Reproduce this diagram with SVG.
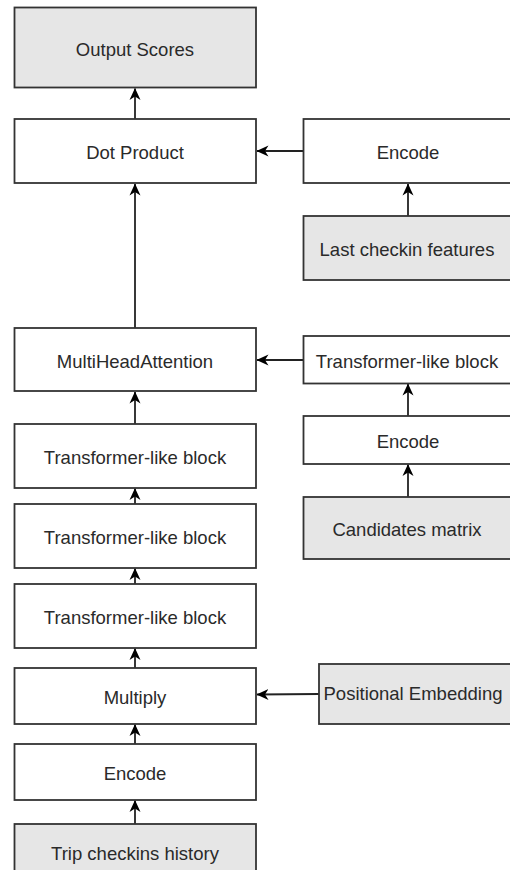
<svg xmlns="http://www.w3.org/2000/svg" width="510" height="870" viewBox="0 0 510 870">
  <style>
    .box { fill: #ffffff; stroke: #333333; stroke-width: 1.8; }
    .gray { fill: #e6e6e6; }
    .lbl { font-family: "Liberation Sans", Arial, sans-serif; font-size: 18.5px; fill: #2a2a2a; text-anchor: middle; }
    .edge { fill: none; stroke: #222222; stroke-width: 1.8; marker-end: url(#arr); }
  </style>
  <defs>
    <marker id="arr" viewBox="0 0 12 12" refX="11.5" refY="6" markerWidth="12" markerHeight="12" markerUnits="userSpaceOnUse" orient="auto">
      <path d="M0,0.5 L12,6 L0,11.5 L3.5,6 Z" fill="#000000"/>
    </marker>
  </defs>
  <rect width="510" height="870" fill="#ffffff"/>

  <g id="connectors">
    <line class="edge" x1="135" y1="119" x2="135" y2="88.5"/>
    <line class="edge" x1="135" y1="328" x2="135" y2="184"/>
    <line class="edge" x1="135" y1="424" x2="135" y2="392"/>
    <line class="edge" x1="135" y1="504" x2="135" y2="488.5"/>
    <line class="edge" x1="135" y1="584" x2="135" y2="568.5"/>
    <line class="edge" x1="135" y1="668" x2="135" y2="648.5"/>
    <line class="edge" x1="135" y1="744" x2="135" y2="724.5"/>
    <line class="edge" x1="135" y1="824" x2="135" y2="800.5"/>
    <line class="edge" x1="303.5" y1="151" x2="257" y2="151"/>
    <line class="edge" x1="408" y1="216" x2="408" y2="184"/>
    <line class="edge" x1="303.5" y1="360" x2="257" y2="360"/>
    <line class="edge" x1="408" y1="416" x2="408" y2="384"/>
    <line class="edge" x1="408" y1="497" x2="408" y2="464.5"/>
    <line class="edge" x1="319" y1="694" x2="257" y2="694.5"/>
  </g>

  <g id="output-scores">
    <rect class="box gray" x="14.5" y="7.5" width="241.5" height="80"/>
    <text class="lbl" x="135" y="55.5">Output Scores</text>
  </g>
  <g id="dot-product">
    <rect class="box" x="14.5" y="119" width="241.5" height="64"/>
    <text class="lbl" x="135" y="159">Dot Product</text>
  </g>
  <g id="mha">
    <rect class="box" x="14.5" y="328" width="241.5" height="63"/>
    <text class="lbl" x="135" y="367.5">MultiHeadAttention</text>
  </g>
  <g id="transformer-1">
    <rect class="box" x="14.5" y="424" width="241.5" height="64"/>
    <text class="lbl" x="135" y="464">Transformer-like block</text>
  </g>
  <g id="transformer-2">
    <rect class="box" x="14.5" y="504" width="241.5" height="64"/>
    <text class="lbl" x="135" y="544">Transformer-like block</text>
  </g>
  <g id="transformer-3">
    <rect class="box" x="14.5" y="584" width="241.5" height="64"/>
    <text class="lbl" x="135" y="624">Transformer-like block</text>
  </g>
  <g id="multiply">
    <rect class="box" x="14.5" y="668" width="241.5" height="56"/>
    <text class="lbl" x="135" y="704">Multiply</text>
  </g>
  <g id="encode-history">
    <rect class="box" x="14.5" y="744" width="241.5" height="56"/>
    <text class="lbl" x="135" y="780">Encode</text>
  </g>
  <g id="trip-checkins">
    <rect class="box gray" x="14.5" y="824" width="241.5" height="60"/>
    <text class="lbl" x="135" y="860">Trip checkins history</text>
  </g>

  <g id="encode-last">
    <rect class="box" x="303.5" y="119" width="212" height="64"/>
    <text class="lbl" x="408" y="159">Encode</text>
  </g>
  <g id="last-checkin">
    <rect class="box gray" x="303.5" y="216" width="212" height="64"/>
    <text class="lbl" x="407" y="256">Last checkin features</text>
  </g>
  <g id="transformer-cand">
    <rect class="box" x="303.5" y="336" width="212" height="47.5"/>
    <text class="lbl" x="407" y="368">Transformer-like block</text>
  </g>
  <g id="encode-cand">
    <rect class="box" x="303.5" y="416" width="212" height="48"/>
    <text class="lbl" x="408" y="448">Encode</text>
  </g>
  <g id="candidates">
    <rect class="box gray" x="303.5" y="497" width="212" height="62"/>
    <text class="lbl" x="407" y="536">Candidates matrix</text>
  </g>
  <g id="positional-embedding">
    <rect class="box gray" x="319" y="664" width="200" height="60"/>
    <text class="lbl" x="413" y="700">Positional Embedding</text>
  </g>
</svg>
